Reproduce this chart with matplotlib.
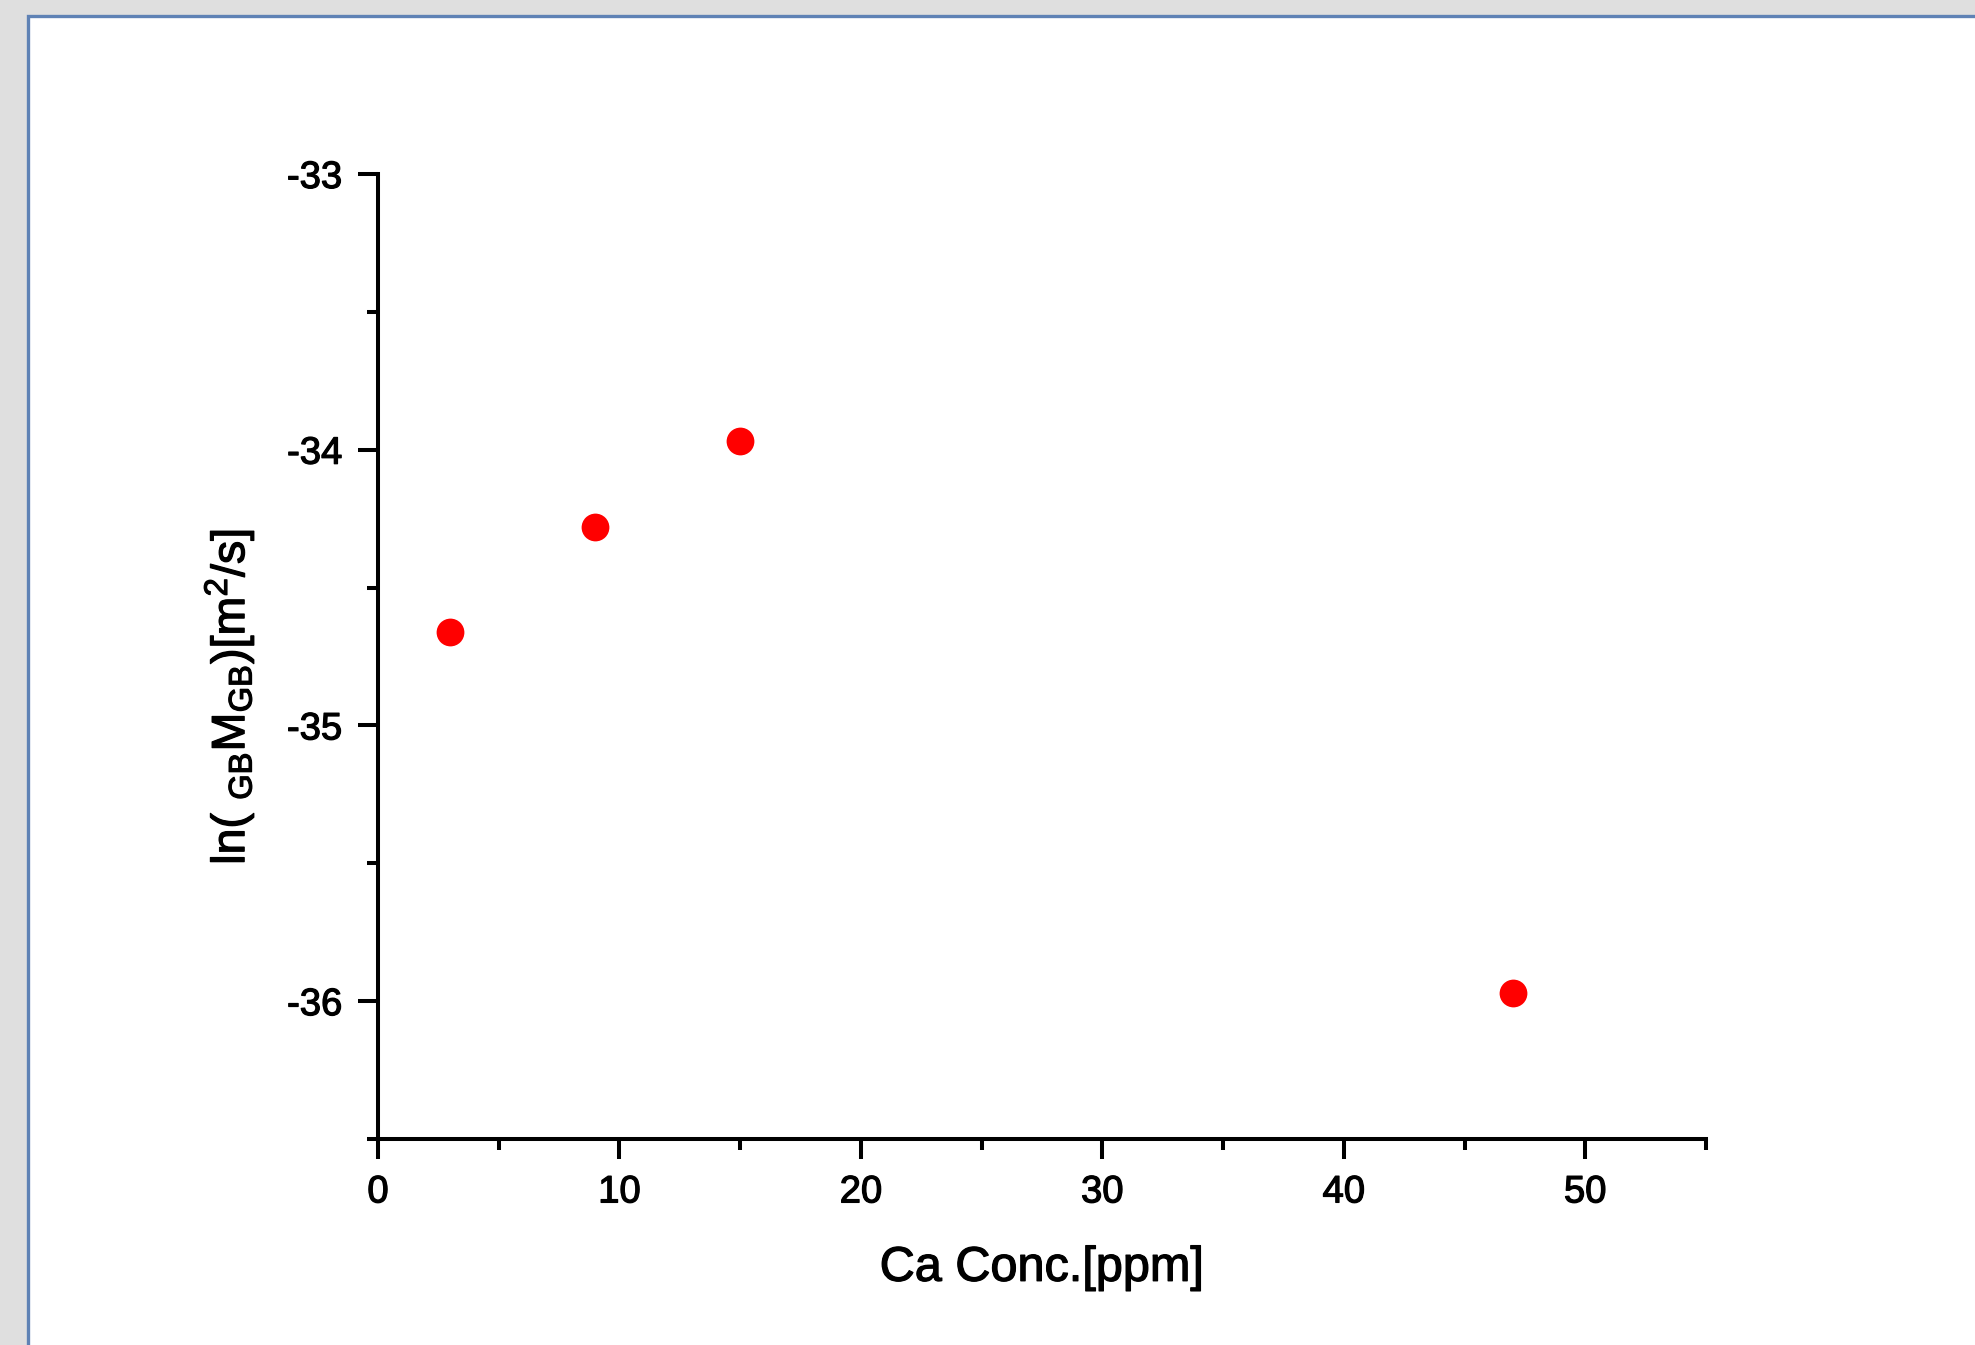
import matplotlib
matplotlib.use("Agg")
import matplotlib.pyplot as plt
import matplotlib.patheffects as pe
from matplotlib.patches import Rectangle
from matplotlib.ticker import MultipleLocator

# Data
ca_conc = [3, 9, 15, 47]
ln_mobility = [-34.66, -34.28, -33.97, -35.97]
x_label = "Ca Conc.[ppm]"
y_label = r"ln( $_{\mathrm{GB}}$M$_{\mathrm{GB}}$)[m$^{2}$/s]"

plt.rcParams['font.family'] = ['Liberation Sans', 'DejaVu Sans']
plt.rcParams['mathtext.fontset'] = 'custom'
plt.rcParams['mathtext.rm'] = 'Liberation Sans'
plt.rcParams['mathtext.it'] = 'Liberation Sans:italic'
plt.rcParams['mathtext.bf'] = 'Liberation Sans:bold'
plt.rcParams['axes.unicode_minus'] = False

W, H = 1975, 1345
fig = plt.figure(figsize=(W / 100, H / 100), dpi=100, facecolor='#DFDFDF')

# white panel with blue border (window frame)
px = 28 / W
py_top = 1 - 16 / H
panel = Rectangle((px, -0.05), 1.2, py_top + 0.05, transform=fig.transFigure,
                  facecolor='white', edgecolor='#5F82B5', linewidth=2.4, zorder=0)
fig.add_artist(panel)

ax = fig.add_axes([378 / W, 1 - 1139 / H, (1706 - 378) / W, (1139 - 174) / H])
ax.set_facecolor('none')
ax.set_zorder(2)

ax.plot(ca_conc, ln_mobility, linestyle='none', marker='o', markersize=20,
        color='#FF0000', markeredgewidth=0, zorder=3)

ax.set_xlim(0, 55)
ax.set_ylim(-36.5, -33)
ax.xaxis.set_major_locator(MultipleLocator(10))
ax.xaxis.set_minor_locator(MultipleLocator(5))
ax.yaxis.set_major_locator(MultipleLocator(1))
ax.yaxis.set_minor_locator(MultipleLocator(0.5))

for side in ['top', 'right']:
    ax.spines[side].set_visible(False)
for side in ['left', 'bottom']:
    ax.spines[side].set_linewidth(2.9)
    ax.spines[side].set_capstyle('projecting')

ax.tick_params(which='major', direction='out', length=14.5, width=2.9,
               labelsize=27.5, pad=11)
ax.tick_params(which='minor', direction='out', length=8, width=2.9)

ax.set_xlabel(x_label, fontsize=35)
ax.set_ylabel(y_label, fontsize=33.5)
ax.xaxis.set_label_coords(0.5, -0.134)
ax.xaxis.label.set_va('center')
ax.yaxis.set_label_coords(-0.112, 0.458)
ax.yaxis.label.set_va('center')

stroke = [pe.withStroke(linewidth=0.9, foreground='black')]
for t in ax.get_xticklabels() + ax.get_yticklabels():
    t.set_path_effects(stroke)
ax.xaxis.label.set_path_effects(stroke)
ax.yaxis.label.set_path_effects(stroke)

fig.savefig('out.png', dpi=100, facecolor=fig.get_facecolor())
